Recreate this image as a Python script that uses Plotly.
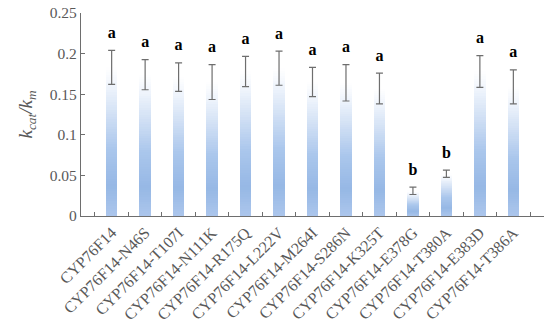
import plotly.graph_objects as go

categories = ["CYP76F14", "CYP76F14-N46S", "CYP76F14-T107I", "CYP76F14-N111K",
              "CYP76F14-R175Q", "CYP76F14-L222V", "CYP76F14-M264I", "CYP76F14-S286N",
              "CYP76F14-K325T", "CYP76F14-E378G", "CYP76F14-T380A", "CYP76F14-E383D",
              "CYP76F14-T386A"]
values = [0.183, 0.174, 0.171, 0.165, 0.178, 0.182, 0.165, 0.164, 0.157, 0.031, 0.052, 0.178, 0.159]
errors = [0.021, 0.0185, 0.0175, 0.0215, 0.0187, 0.021, 0.018, 0.0224, 0.019, 0.0045, 0.0045, 0.0195, 0.021]
letters = ["a", "a", "a", "a", "a", "a", "a", "a", "a", "b", "b", "a", "a"]

# gradient stops (fraction of bar height from bottom -> rgb)
stops = [(0.0, (172, 198, 236)), (0.2, (150, 184, 229)), (0.45, (170, 198, 236)),
         (0.7, (212, 226, 245)), (0.88, (240, 245, 252)), (1.0, (255, 255, 255))]

def color_at(t):
    for (p0, c0), (p1, c1) in zip(stops[:-1], stops[1:]):
        if p0 <= t <= p1:
            f = (t - p0) / (p1 - p0)
            return "rgb(%d,%d,%d)" % tuple(round(a + (b - a) * f) for a, b in zip(c0, c1))
    return "rgb(255,255,255)"

N = 60
fig = go.Figure()
for i in range(N):
    fig.add_trace(go.Bar(
        x=categories, y=[v / N for v in values], width=0.34,
        marker=dict(color=color_at((i + 0.5) / N), line=dict(width=0)),
        showlegend=False, hoverinfo="skip"))

fig.add_trace(go.Scatter(
    x=categories, y=values, mode="markers", marker=dict(opacity=0, size=1),
    error_y=dict(type="data", array=errors, visible=True, color="rgb(110,110,110)",
                 thickness=1.2, width=3.5),
    showlegend=False, hoverinfo="skip"))

fig.add_trace(go.Scatter(
    x=categories, y=[v + e for v, e in zip(values, errors)], mode="markers+text",
    marker=dict(opacity=0, size=12),
    text=["<b>%s</b>" % s for s in letters], textposition="top center",
    textfont=dict(family="Liberation Serif", size=16, color="black"),
    showlegend=False, hoverinfo="skip"))

fig.update_layout(
    barmode="stack", width=550, height=327,
    margin=dict(l=81, r=6, t=13, b=111),
    plot_bgcolor="white", paper_bgcolor="white",
    font=dict(family="Liberation Serif", color="rgb(89,89,89)"),
)
fig.update_xaxes(
    automargin=False,
    showline=True, linecolor="rgb(110,110,110)", linewidth=1.2,
    ticks="inside", tickson="boundaries", ticklen=4, tickcolor="rgb(110,110,110)",
    tickangle=-45, tickfont=dict(size=16, family="Liberation Serif", color="rgb(89,89,89)"),
    showgrid=False)
fig.update_yaxes(
    automargin=False,
    range=[0, 0.25], tickvals=[0, 0.05, 0.1, 0.15, 0.2, 0.25],
    ticktext=["0", "0.05", "0.1", "0.15", "0.2", "0.25"],
    showline=True, linecolor="rgb(110,110,110)", linewidth=1.2,
    ticks="inside", ticklen=4, tickcolor="rgb(110,110,110)",
    tickfont=dict(size=15.5, family="Liberation Serif", color="rgb(89,89,89)"),
    showgrid=False, zeroline=False,
    title=dict(text="<i>k</i><sub><i>cat</i></sub><i>/k</i><sub><i>m</i></sub>",
               font=dict(size=19, family="Liberation Serif", color="rgb(89,89,89)"),
               standoff=12))

fig.write_html("out.html", config={"displayModeBar": False},
               post_script="document.body.style.margin='0';")
